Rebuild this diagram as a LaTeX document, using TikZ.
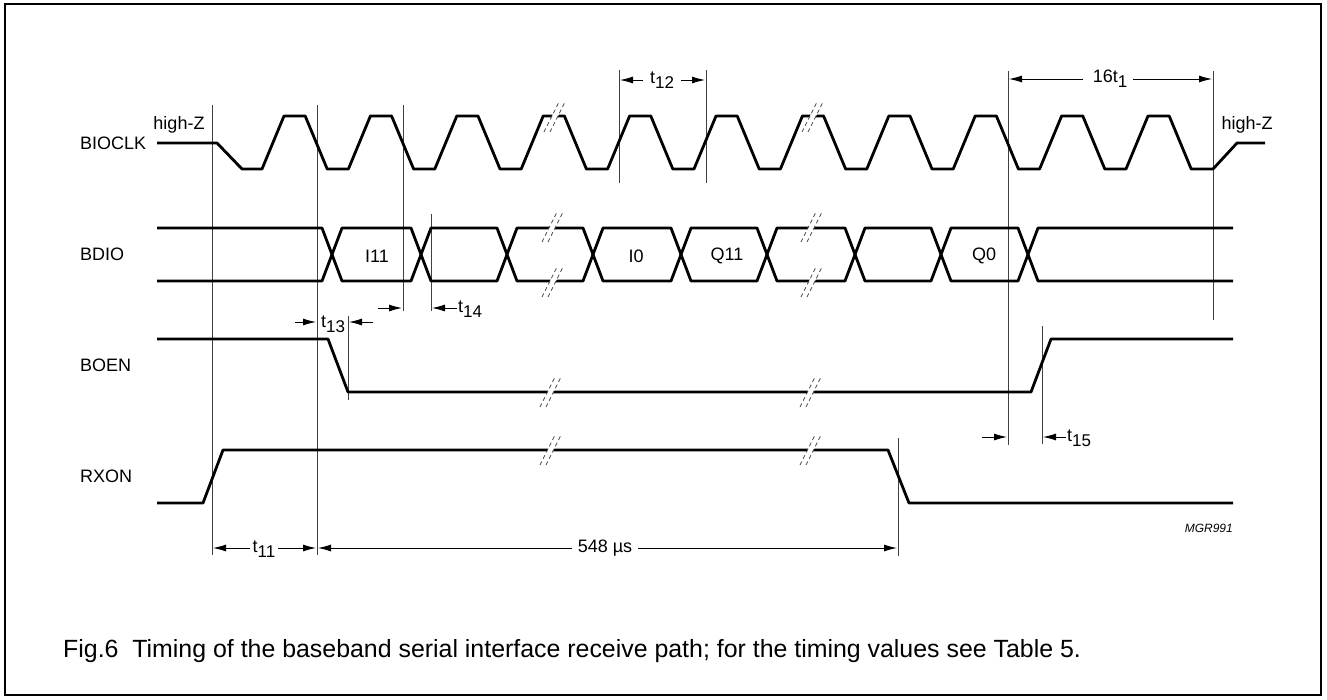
\documentclass[tikz,border=0pt]{standalone}
\usepackage{fontspec}
\setmainfont{Liberation Sans}
\usetikzlibrary{arrows.meta}
\newcommand{\tsub}[2]{#1\raisebox{-5pt}{\fontsize{17}{18}\selectfont #2}}
\begin{document}
\begin{tikzpicture}[x=1pt,y=-1pt,
  sig/.style={line width=2.8pt, line join=round},
  refline/.style={line width=0.8pt, black!75},
  dim/.style={line width=0.9pt, -{Latex[length=13pt,width=7pt]}},
  brk/.style={dash pattern=on 4pt off 3pt, line width=0.7pt, black!70},
  lbl/.style={font=\fontsize{18}{20}\selectfont, inner sep=0pt},
  brkmark/.pic={
    \fill[white] (-11,15) -- (4,-15) -- (10,-15) -- (-5,15) -- cycle;
    \draw[brk] (-11,15) -- (4,-15);
    \draw[brk] (-5,15) -- (10,-15);
  }]
\useasboundingbox (0,0) rectangle (1327,699);
\draw[line width=1.4pt] (5,4) rectangle (1321,695);

% signal names
\node[lbl, anchor=west] (nbioclk) at (80,143) {BIOCLK};
\node[lbl, anchor=west] (nbdio) at (80,254) {BDIO};
\node[lbl, anchor=west] (nboen) at (80,365) {BOEN};
\node[lbl, anchor=west] (nrxon) at (80,476) {RXON};
\node[lbl] (hz1) at (179,125) {high-Z};
\node[lbl] (hz2) at (1247,125) {high-Z};

% reference lines
\draw[refline] (212,105) -- (212,555);
\draw[refline] (317,105) -- (317,555);
\draw[refline] (403,105) -- (403,311);
\draw[refline] (431,214) -- (431,311);
\draw[refline] (348,316) -- (348,400);
\draw[refline] (619,70) -- (619,183);
\draw[refline] (706,70) -- (706,183);
\draw[refline] (1008,71) -- (1008,445);
\draw[refline] (1213,71) -- (1213,320);
\draw[refline] (1042,326) -- (1042,444);
\draw[refline] (898,438) -- (898,556);

% BIOCLK
\draw[sig] (157,143) -- (217,143) -- (242,169)
  foreach \k in {0,...,10} {
    -- ({284+86.4*\k-22},169) -- ({284+86.4*\k},116)
    -- ({284+86.4*\k+21.2},116) -- ({284+86.4*\k+43.2},169)
  }
  -- (1213,169) -- (1237,143) -- (1265,143);

% BDIO
\draw[sig] (157,228) -- (322,228) -- (332,254.5) -- (322,281) -- (157,281);
\foreach \a/\b in {332/421,421/507,507/593,593/681,681/767,767/855,855/941,941/1028} {
  \draw[sig] (\a,254.5) -- (\a+10,228) -- (\b-10,228) -- (\b,254.5) -- (\b-10,281) -- (\a+10,281) -- cycle;
}
\draw[sig] (1233,228) -- (1038,228) -- (1028,254.5) -- (1038,281) -- (1233,281);
\node[lbl] (dI11) at (377,256) {I11};
\node[lbl] (dI0) at (636,256) {I0};
\node[lbl] (dQ11) at (727,256) {Q11};
\node[lbl] (dQ0) at (984,256) {Q0};

% BOEN
\draw[sig] (157,339) -- (328,339) -- (348,392) -- (1031,392) -- (1051,339) -- (1233,339);
% RXON
\draw[sig] (157,503) -- (203,503) -- (223,450) -- (888,450) -- (909,503) -- (1233,503);

% break marks
\foreach \p in {(555,117),(813,117),(553,227),(553,282),(812,227),(812,282),(551,392),(811,392),(551,450),(811,450)} {
  \pic at \p {brkmark};
}

% dimensions
\draw[dim] (643,80) -- (620,80);
\draw[dim] (681,80) -- (705,80);
\node[lbl] (lt12) at (662,80) {\tsub{t}{12}};

\draw[dim] (1083,79) -- (1009,79);
\draw[dim] (1133,79) -- (1212,79);
\node[lbl] (l16t1) at (1110,79) {\tsub{16t}{1}};

\draw[dim] (295,322) -- (316,322);
\draw[dim] (373,322) -- (349,322);
\node[lbl] (lt13) at (333,324) {\tsub{t}{13}};

\draw[dim] (378,308) -- (402,308);
\draw[dim] (457,308) -- (432,308);
\node[lbl, anchor=west] (lt14) at (458,309) {\tsub{t}{14}};

\draw[dim] (982,437) -- (1007,437);
\draw[dim] (1066,437) -- (1043,437);
\node[lbl, anchor=west] (lt15) at (1067,438) {\tsub{t}{15}};

\draw[dim] (250,548) -- (213,548);
\draw[dim] (278,548) -- (316,548);
\node[lbl] (lt11) at (264,549) {\tsub{t}{11}};

\draw[dim] (572,548) -- (318,548);
\draw[dim] (638,548) -- (897,548);
\node[lbl] (l548) at (605,548) {548 µs};

\node[font=\fontsize{12}{14}\selectfont\itshape, anchor=east, inner sep=0pt] (mgr) at (1233,528) {MGR991};

\node[font=\fontsize{24.9}{28}\selectfont, anchor=west, inner sep=0pt] (cap) at (63,651) {Fig.6\ \ Timing of the baseband serial interface receive path; for the timing values see Table 5.};
\end{tikzpicture}
\end{document}
